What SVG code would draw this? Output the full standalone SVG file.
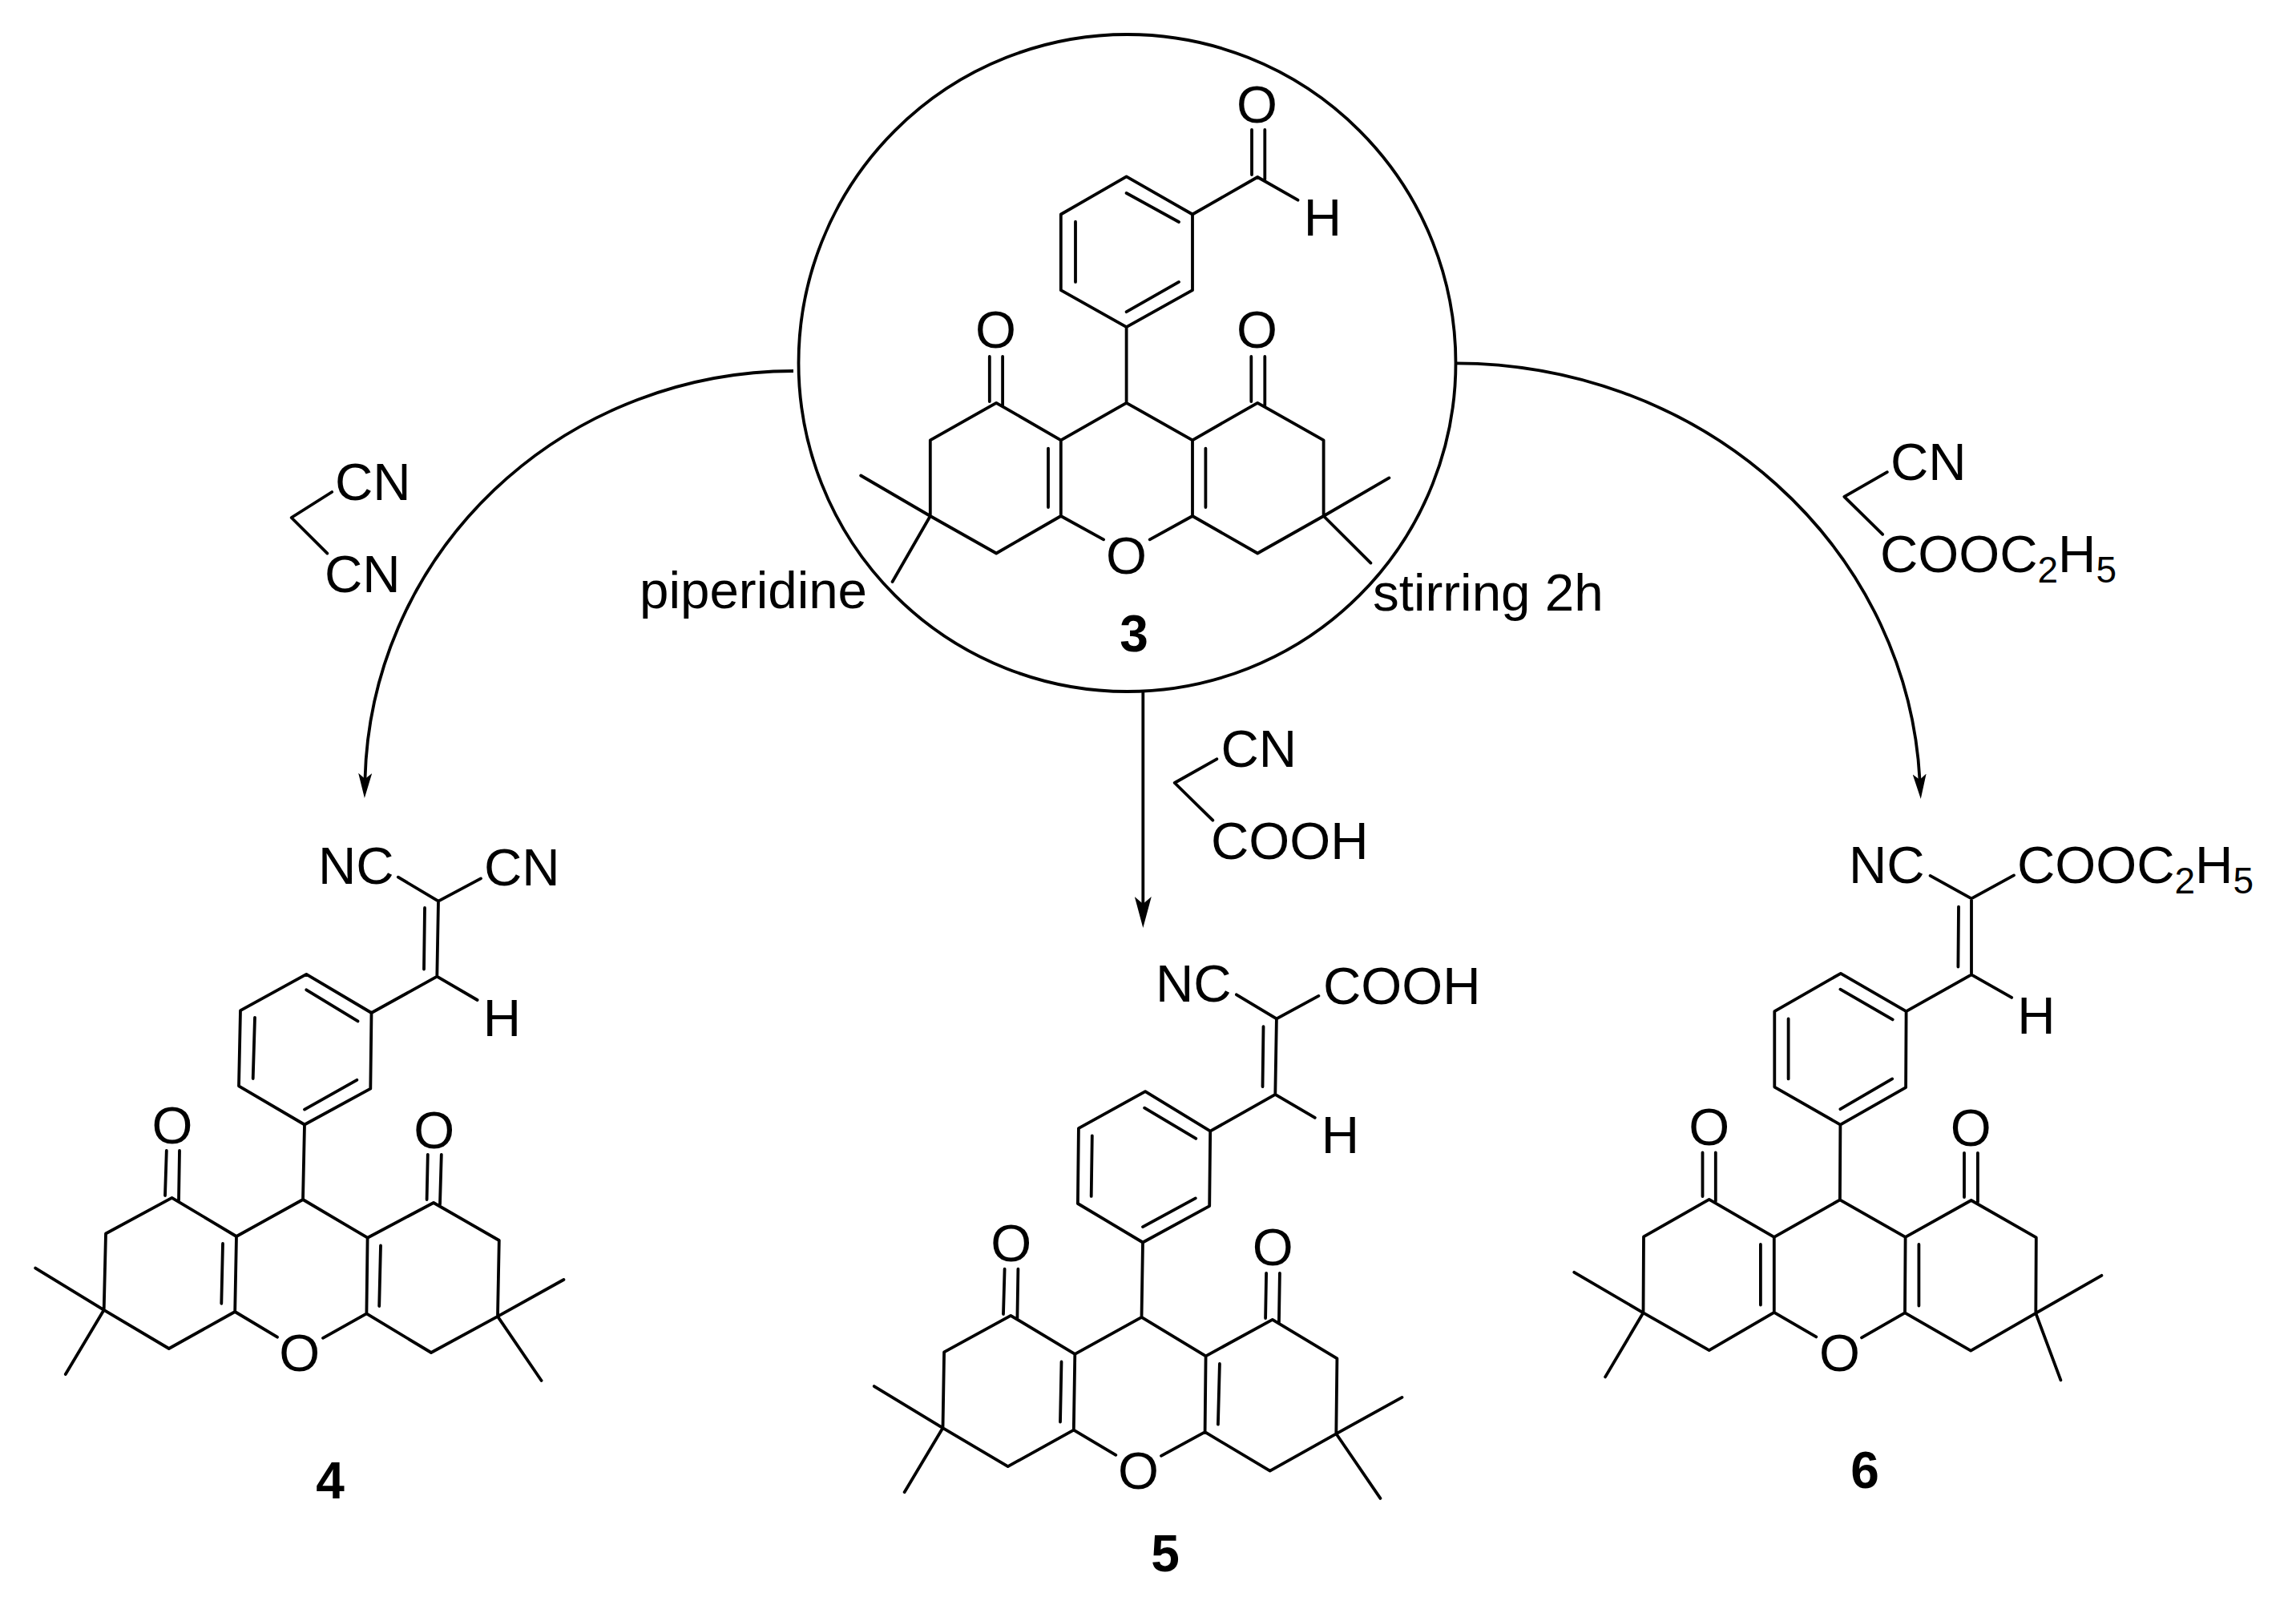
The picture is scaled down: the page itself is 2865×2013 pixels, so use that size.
<svg xmlns="http://www.w3.org/2000/svg" width="2865" height="2013" viewBox="0 0 2865 2013">
<style>
.b{fill:none;stroke:#000;stroke-width:3.8;stroke-linecap:round;stroke-linejoin:round}
.c{fill:none;stroke:#000;stroke-width:3.8}
text{font-family:"Liberation Sans",Arial,sans-serif;font-size:65.5px;fill:#000}
.m{text-anchor:middle}
.n{font-weight:bold;font-size:64px;text-anchor:middle}
.s{font-size:46px}
</style>
<defs>
<marker id="head" markerUnits="userSpaceOnUse" viewBox="0 0 31 17" markerWidth="31" markerHeight="17" refX="7" refY="8.5" orient="auto"><path d="M0,0L31,8.5L0,17L7,8.5Z" fill="#000"/></marker>
<marker id="headL" markerUnits="userSpaceOnUse" viewBox="0 0 39 21" markerWidth="39" markerHeight="21" refX="9" refY="10.5" orient="auto"><path d="M0,0L39,10.5L0,21L9,10.5Z" fill="#000"/></marker>
</defs>
<rect width="2865" height="2013" fill="#fff"/>
<g id="connectors">
<path class="c" d="M990,463A535 522 0 0 0 455.5,972" marker-end="url(#head)"/>
<path class="c" d="M1817,453.3A580 547 0 0 1 2395.5,973" marker-end="url(#head)"/>
<path class="c" d="M1426.3,864V1128" marker-end="url(#headL)"/>
</g>
<g id="compound-3">
<circle class="c" cx="1406.5" cy="453" r="410"/>
<path class="b" d="M1405.6,220.4L1488,267.5V362.2L1405.6,408.1L1323.8,362.2V267.5Z M1405.6,241L1471,277 M1342,276.7V351.9 M1405.6,389.2L1471,351.9 M1488,267.5L1569.2,221L1619.5,249.7 M1562,162V218 M1578.3,162V224 M1405.6,408.1V502.8 M1405.6,502.8L1323.8,549.3V644L1377.1,673.3 M1405.6,502.8L1488,549.3V644L1434.7,673.3 M1323.8,549.3L1243.2,502.8L1160.8,549.3V644L1243.2,690.5L1323.8,644 M1308,559.6V633 M1488,549.3L1569.2,502.8L1651.6,549.3V644L1569.2,690.5L1488,644 M1504.4,559.6V633 M1234.8,445V501 M1251.1,445V507 M1561.3,445V501 M1578.3,445V507 M1160.8,644L1074.2,593.5 M1160.8,644L1113.6,726 M1651.6,644L1733.4,596.4 M1651.6,644L1710.4,702.6"/>
<text class="m" x="1568.6" y="153">O</text>
<text class="m" x="1650.4" y="294">H</text>
<text class="m" x="1242.6" y="434">O</text>
<text class="m" x="1568.6" y="434">O</text>
<text class="m" x="1405.6" y="715.5">O</text>
<text class="n" x="1415" y="813">3</text>
</g>
<g id="conditions">
<text x="798" y="759">piperidine</text>
<text x="1713" y="762">stirring 2h</text>
</g>
<g id="reagent-malononitrile">
<path class="b" d="M414.2,614L363.6,646L408.4,690.6"/>
<text x="418" y="623.6">CN</text>
<text x="405" y="738.8">CN</text>
</g>
<g id="reagent-cyanoacetic-acid">
<path class="b" d="M1518.3,947.3L1465.7,977L1513.3,1023.7"/>
<text x="1523.5" y="956.7">CN</text>
<text x="1511" y="1071.7">COOH</text>
</g>
<g id="reagent-ethyl-cyanoacetate">
<path class="b" d="M2354.9,589.2L2301.3,619.8L2349.2,666.8"/>
<text x="2359" y="599">CN</text>
<text x="2346" y="714">COOC<tspan class="s" dy="13">2</tspan><tspan dy="-13">H</tspan><tspan class="s" dy="13">5</tspan></text>
</g>
<g id="compound-4">
<path class="b" d="M496.8,1094.7L547,1124.6L600,1096.4 M547,1124.6L545.3,1218.7 M530,1133L529,1209.5 M545.3,1218.7L463.5,1264 M545.3,1218.7L595.6,1248 M463.5,1264L382.3,1215.8L300,1261.2L298,1355.3L380,1403.5L462.3,1358.7Z M382.3,1235.3L446.5,1274.4 M318,1269.8L315.7,1346 M380,1384.6L445.3,1347.8 M380,1403.5L378,1497 M378,1497L295,1543L293.2,1637L346,1668.7 M378,1497L458.6,1544.7L457.4,1639.4L403,1669.8 M295,1543L214.5,1494.8L132,1539.5L129.7,1634.8L210.8,1683L293.2,1637 M458.6,1544.7L541,1501L622.8,1548L621,1642.9L538,1688L457.4,1639.4 M278,1552L276.3,1626.8 M475,1554.5L473.2,1630 M207.8,1436L206,1492 M224,1436L223,1498 M533.8,1440.8L532.6,1497 M550.8,1440.8L549,1503 M129.7,1634.8L44.2,1582.6 M129.7,1634.8L81.8,1715 M621,1642.9L703.4,1597 M621,1642.9L675.6,1723"/>
<text x="397" y="1103">NC</text>
<text x="604" y="1105">CN</text>
<text class="m" x="626.5" y="1292.7">H</text>
<text class="m" x="215" y="1427">O</text>
<text class="m" x="541.7" y="1432.5">O</text>
<text class="m" x="373.8" y="1711">O</text>
<text class="n" x="412" y="1870">4</text>
</g>
<g id="compound-5">
<path class="b" d="M1542.9,1241.3L1592.9,1271.4L1645.4,1242.9 M1592.9,1271.4L1591.3,1365.8 M1576.5,1281.1L1575.5,1356.1 M1591.3,1365.8L1510.2,1411.7 M1591.3,1365.8L1640.8,1394.9 M1510.2,1411.7L1429.1,1362.2L1345.9,1408.2L1344.9,1502L1426,1550.5L1509.2,1505.1Z M1428.1,1382.7L1492.3,1420.9 M1362.8,1417.3L1361.7,1492.9 M1426,1531.1L1491.8,1495.4 M1426,1550.5L1424.5,1643.9 M1424.5,1643.9L1341.3,1689.8L1339.8,1784.7L1392.3,1815.8 M1424.5,1643.9L1504.6,1692.3L1503.6,1787.2L1449,1816.8 M1324.5,1699.5L1323,1774.5 M1521.9,1702L1519.9,1777.6 M1341.3,1689.8L1261.2,1641.8L1178.1,1687.3L1176.5,1782.1L1257.7,1830.1L1339.8,1784.7 M1504.6,1692.3L1587.8,1646.9L1668.4,1695.4L1667.3,1789.3L1584.7,1835.7L1503.6,1787.2 M1253.6,1583.7L1252,1640 M1270.4,1583.7L1269.4,1645 M1580.1,1588.8L1579.1,1645 M1596.9,1588.8L1595.9,1651 M1176.5,1782.1L1090.8,1730.1 M1176.5,1782.1L1128.6,1862.2 M1667.3,1789.3L1749.5,1743.9 M1667.3,1789.3L1722.4,1869.9"/>
<text x="1442" y="1250">NC</text>
<text x="1651" y="1252.7">COOH</text>
<text class="m" x="1672.4" y="1439.3">H</text>
<text class="m" x="1261.7" y="1573.5">O</text>
<text class="m" x="1588.3" y="1579">O</text>
<text class="m" x="1420.4" y="1857.7">O</text>
<text class="n" x="1454" y="1961">5</text>
</g>
<g id="compound-6">
<path class="b" d="M2408.6,1092.9L2460,1121.4L2513,1092.4 M2460,1121.4V1216.3 M2444,1131.6L2443.4,1206.6 M2460,1216.3L2378.6,1262.2 M2460,1216.3L2510.2,1244.9 M2378.6,1262.2L2296.9,1214.8L2214.3,1262.2V1356.6L2296.4,1403.6L2378.1,1357.1Z M2296.4,1234.7L2361.7,1272.4 M2231.6,1271.4V1346.4 M2296.4,1384.2L2361.2,1346.4 M2296.4,1403.6L2295.9,1497.4 M2295.9,1497.4L2213.8,1543.9V1637.8L2266.3,1668.4 M2295.9,1497.4L2377.6,1543.9L2377,1638.3L2323,1669.4 M2196.9,1553V1628.6 M2394.4,1553V1629.6 M2213.8,1543.9L2132.7,1496.9L2051,1543.4L2050.5,1638.3L2132.7,1685.2L2213.8,1637.8 M2377.6,1543.9L2459.7,1498L2540.8,1544.4L2540.3,1638.8L2459.2,1685.7L2377,1638.3 M2124.5,1438.3V1493 M2140.8,1438.3V1499 M2451,1438.8V1494 M2467.9,1438.8V1500 M2050.5,1638.3L1964.3,1587.8 M2050.5,1638.3L2003.1,1718.4 M2540.3,1638.8L2622.4,1591.8 M2540.3,1638.8L2571.4,1722.4"/>
<text x="2307" y="1102">NC</text>
<text x="2517" y="1102">COOC<tspan class="s" dy="13">2</tspan><tspan dy="-13">H</tspan><tspan class="s" dy="13">5</tspan></text>
<text class="m" x="2540.8" y="1290">H</text>
<text class="m" x="2132.7" y="1428.6">O</text>
<text class="m" x="2459.2" y="1430">O</text>
<text class="m" x="2295.4" y="1711">O</text>
<text class="n" x="2327" y="1857">6</text>
</g>
</svg>
